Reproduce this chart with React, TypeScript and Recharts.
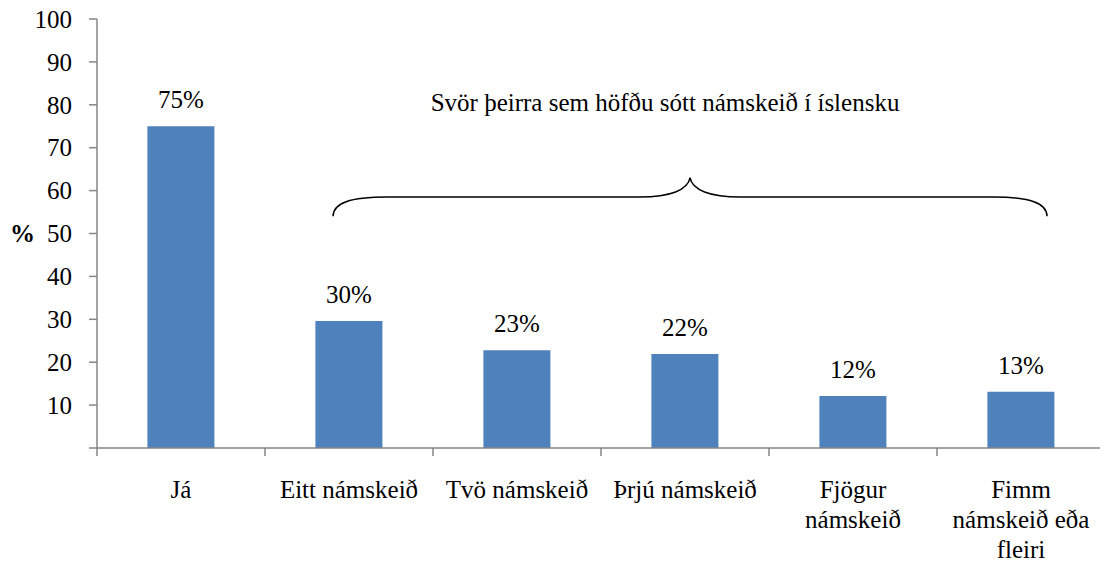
import React from 'react';
import { BarChart, Bar, XAxis, YAxis, LabelList, ReferenceArea } from 'recharts';

const categories = ['Já', 'Eitt námskeið', 'Tvö námskeið', 'Þrjú námskeið', 'Fjögur\nnámskeið', 'Fimm\nnámskeið eða\nfleiri'];
const values = [75, 29.6, 22.8, 21.9, 12.1, 13.1];
const yTicks = [0, 10, 20, 30, 40, 50, 60, 70, 80, 90, 100];
const braceTitle = 'Svör þeirra sem höfðu sótt námskeið í íslensku';
const braceFrom = 'Eitt námskeið';
const braceTo = 'Fimm\nnámskeið eða\nfleiri';
const braceLow = 54;
const braceHigh = 63;

const data = categories.map((name, i) => ({ name, value: values[i] }));

const FONT = "'Liberation Serif', 'DejaVu Serif', 'Noto Serif', 'Times New Roman', Times, 'Nimbus Roman', 'Nimbus Roman No9 L', FreeSerif, Tinos, serif";
const FS = 25;
const AXIS = '#868686';
const BAR = '#4F81BD';
const CHART_W = 1110;
const MARGIN = { top: 19, right: 5, bottom: 0, left: 0 };
const Y_W = 97;
const BAND = (CHART_W - MARGIN.left - MARGIN.right - Y_W) / categories.length;

const txt = { fontFamily: FONT, fontSize: FS, fill: '#000' } as const;

const YTick = (props: any) => {
  const { x, y, payload } = props;
  if (payload.value === 0) return <g />;
  return (
    <text x={x} y={y} dy="0.35em" textAnchor="end" fontFamily={FONT} style={txt}>
      {payload.value}
    </text>
  );
};

const XTick = (props: any) => {
  const { x, y, payload } = props;
  const lines = String(payload.value).split('\n');
  const bx = x - BAND / 2;
  return (
    <g>
      <line x1={bx} x2={bx} y1={y} y2={y + 8} stroke={AXIS} strokeWidth={1.5} />
      <text x={x} y={y + 50} textAnchor="middle" fontFamily={FONT} style={txt}>
        {lines.map((l, i) => (
          <tspan key={i} x={x} dy={i === 0 ? 0 : 30}>{l}</tspan>
        ))}
      </text>
    </g>
  );
};

const BarLabel = (props: any) => {
  const { x, y, width, value } = props;
  return (
    <text x={x + width / 2} y={y - 18} textAnchor="middle" fontFamily={FONT} style={txt}>
      {`${Math.round(value)}%`}
    </text>
  );
};

const Brace = (props: any) => {
  const { x, y, width, height } = props;
  const band = width / 5;
  const L = x + band * 0.405;
  const R = x + width - band * 0.345;
  const C = (L + R) / 2;
  const yb = y + height;
  const ym = y + height / 2;
  const d = `M${L},${yb} C${L},${ym + 6} ${L + 17},${ym} ${L + 54},${ym} L${C - 50},${ym} C${C - 20},${ym} ${C - 2},${ym - 7} ${C},${y} C${C + 2},${ym - 7} ${C + 20},${ym} ${C + 50},${ym} L${R - 54},${ym} C${R - 17},${ym} ${R},${ym + 6} ${R},${yb}`;
  return (
    <g>
      <path d={d} fill="none" stroke="#000" strokeWidth={1.5} />
      <text x={C - 25} y={y - 67} textAnchor="middle" fontFamily={FONT} style={txt}>
        {braceTitle}
      </text>
    </g>
  );
};

export default function App() {
  return (
    <div style={{ position: 'fixed', left: 0, top: 0, width: 1100, height: 563, overflow: 'hidden', background: '#fff', fontFamily: FONT }}>
      <BarChart width={CHART_W} height={563} data={data} margin={MARGIN} barCategoryGap="30%">
        <XAxis
          dataKey="name"
          height={115}
          interval={0}
          axisLine={{ stroke: AXIS, strokeWidth: 1.5 }}
          tickLine={false}
          tickSize={0}
          tickMargin={0}
          tick={<XTick />}
        />
        <YAxis
          width={Y_W}
          domain={[0, 100]}
          ticks={yTicks}
          interval={0}
          tickSize={8}
          tickMargin={17}
          axisLine={{ stroke: AXIS, strokeWidth: 1.5 }}
          tickLine={{ stroke: AXIS, strokeWidth: 1.5 }}
          tick={<YTick />}
          label={{ value: '%', position: 'insideLeft', offset: 10, style: { ...txt, fontWeight: 'bold' } }}
        />
        <ReferenceArea x1={braceFrom} x2={braceTo} y1={braceLow} y2={braceHigh} shape={<Brace />} ifOverflow="visible" />
        <Bar dataKey="value" fill={BAR} isAnimationActive={false}>
          <LabelList dataKey="value" content={<BarLabel />} />
        </Bar>
      </BarChart>
    </div>
  );
}
